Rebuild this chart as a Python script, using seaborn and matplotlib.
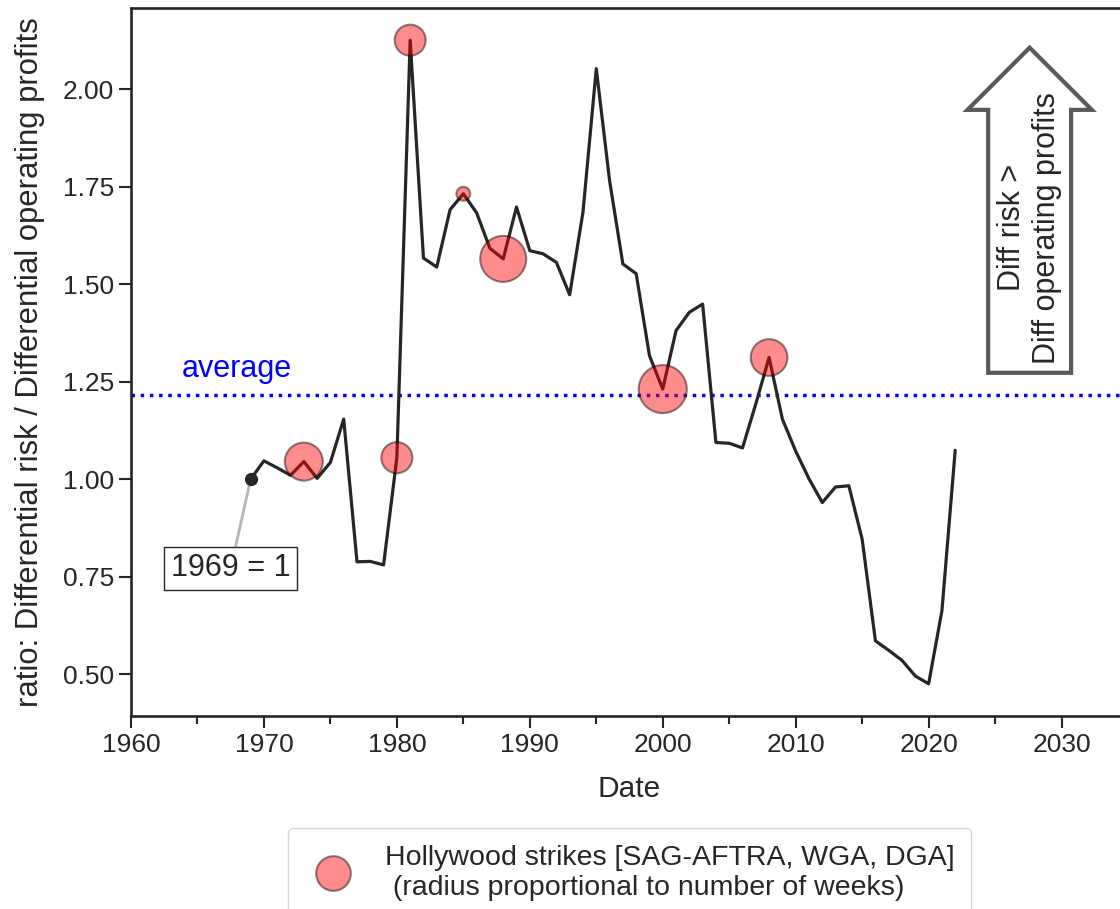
import numpy as np
import pandas as pd
import matplotlib
matplotlib.use("Agg")
import matplotlib.pyplot as plt
import seaborn as sns
from matplotlib.ticker import MultipleLocator, FormatStrFormatter
from matplotlib.lines import Line2D

# ---------------- data ----------------
years = list(range(1969, 2023))
ratio = [1.000, 1.047, 1.029, 1.010, 1.045, 1.002, 1.043, 1.154, 0.788, 0.789,
         0.780, 1.055, 2.126, 1.567, 1.544, 1.691, 1.732, 1.683, 1.592, 1.565,
         1.698, 1.586, 1.578, 1.556, 1.473, 1.685, 2.053, 1.766, 1.552, 1.527,
         1.317, 1.231, 1.381, 1.428, 1.449, 1.094, 1.092, 1.080, 1.193, 1.312,
         1.154, 1.072, 1.001, 0.940, 0.980, 0.983, 0.846, 0.585, 0.561, 0.535,
         0.495, 0.475, 0.662, 1.074]
strike_years = [1973, 1980, 1981, 1985, 1988, 2000, 2008]
strike_weeks = [15, 10, 10, 2, 22, 24, 14]

x_ticks = [1960, 1970, 1980, 1990, 2000, 2010, 2020, 2030]
legend_label = ("Hollywood strikes [SAG-AFTRA, WGA, DGA]\n"
                " (radius proportional to number of weeks)")

# ---------------- style ----------------
sns.set_style("ticks")
plt.rcParams["font.family"] = ["Liberation Sans", "DejaVu Sans"]
dark = "#262626"

fig = plt.figure(figsize=(11.2, 9.09), dpi=100)
ax = fig.add_axes([0.11696, 0.21232, 0.8902, 0.7789])

df = pd.DataFrame({"year": years, "ratio": ratio})
sns.lineplot(data=df, x="year", y="ratio", color=dark, lw=2.3, ax=ax, zorder=2)

strike_ratio = [ratio[years.index(y)] for y in strike_years]
sdf = pd.DataFrame({"year": strike_years, "ratio": strike_ratio,
                    "weeks": strike_weeks})
ax.scatter(sdf["year"], sdf["ratio"], s=np.array(strike_weeks) * 50,
           color="red", alpha=0.45, edgecolor="black", linewidth=1.5, zorder=3)

# 1969 reference point
ax.plot([years[0]], [ratio[0]], "o", color=dark, ms=8.5, zorder=4)

# average line
avg = float(np.mean(ratio))
ax.axhline(avg, color="blue", ls=":", lw=2.5, zorder=1)
ax.text(1963.8, avg + 0.028, "average", color="blue", fontsize=22, va="bottom")

# annotation 1969 = 1
ax.annotate("1969 = 1", xy=(years[0], ratio[0]), xytext=(1967.5, 0.771),
            fontsize=22, ha="center", va="center",
            bbox=dict(boxstyle="square,pad=0.22", fc="white", ec=dark, lw=1),
            arrowprops=dict(arrowstyle="-", color="#b5b5b5", lw=2,
                            shrinkA=0, shrinkB=5))

# big arrow
ax.text(2027.6, 1.645, "Diff risk >\nDiff operating profits", rotation=90,
        ha="center", va="center", multialignment="center", fontsize=22,
        color=dark,
        bbox=dict(boxstyle="rarrow,pad=0.3", fc="white", ec="#595959", lw=3))

# axes
ax.set_xlim(1960, 2035)
ax.set_xticks(x_ticks)
ax.xaxis.set_minor_locator(MultipleLocator(5))
ax.yaxis.set_major_locator(MultipleLocator(0.25))
ax.yaxis.set_major_formatter(FormatStrFormatter("%.2f"))
ax.tick_params(axis="both", which="major", labelsize=19, length=8.5, width=1.5,
               colors=dark)
ax.tick_params(axis="x", which="minor", length=5.5, width=1.5, colors=dark)
for sp in ax.spines.values():
    sp.set_linewidth(1.9)
    sp.set_color(dark)

ax.set_xlabel("Date", fontsize=21.5, color=dark, labelpad=13)
ax.set_ylabel("ratio: Differential risk / Differential operating profits",
              fontsize=22.3, color=dark, labelpad=13)

handle = Line2D([], [], marker="o", ls="", ms=25,
                mfc=(1, 0, 0, 0.45), mec=(0, 0, 0, 0.45), mew=1.5)
leg = ax.legend([handle], [legend_label], loc="upper center",
                bbox_to_anchor=(0.5, -0.138), fontsize=20.5, frameon=True,
                borderpad=0.6)
for t in leg.get_texts():
    t.set_color(dark)

fig.savefig("out.png", dpi=100)
